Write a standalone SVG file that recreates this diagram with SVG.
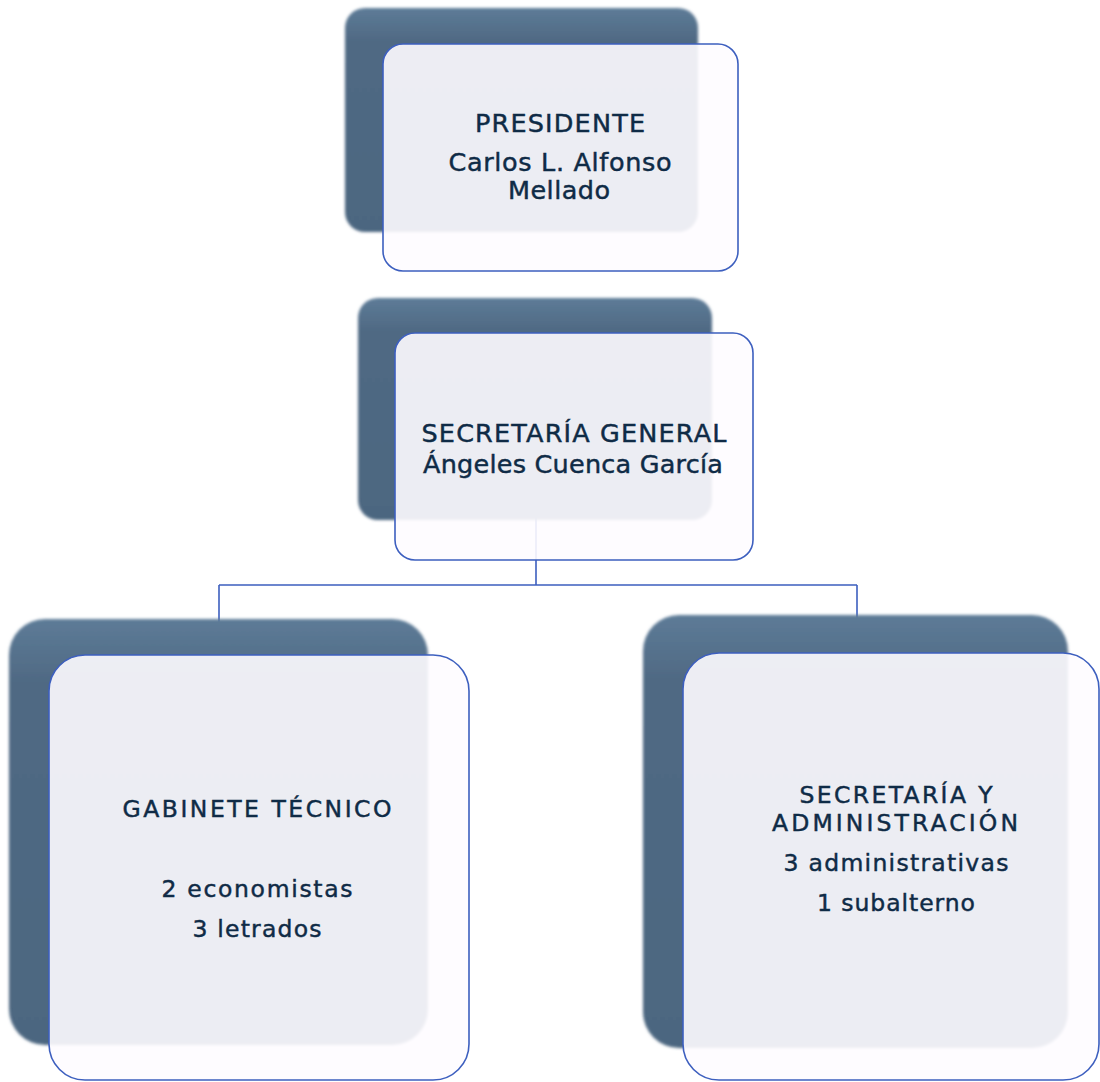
<svg xmlns="http://www.w3.org/2000/svg" width="1100" height="1082" viewBox="0 0 1100 1082">
<defs>
<linearGradient id="shadeGrad" x1="0" y1="0" x2="0" y2="1">
<stop offset="0" stop-color="#5d7b97"/>
<stop offset="0.15" stop-color="#4f6983"/>
<stop offset="1" stop-color="#4c6680"/>
</linearGradient>
<filter id="soft" x="-5%" y="-5%" width="110%" height="110%">
<feGaussianBlur stdDeviation="1.6"/>
</filter>
<style>
.shade{fill:url(#shadeGrad);filter:url(#soft);}
.card{fill:#fefcff;fill-opacity:0.9;stroke:#3d5fbf;stroke-width:1.6;}
.conn{fill:none;stroke:#3d5fbf;stroke-width:1.6;}
.t{font-family:"DejaVu Sans","Liberation Sans",sans-serif;fill:#0f2b46;stroke:#0f2b46;stroke-width:0.45;text-anchor:middle;}
.big{font-size:25.5px;}
.small{font-size:23.5px;}
</style>
</defs>
<rect width="1100" height="1082" fill="#ffffff"/>
<g id="connectors">
<path class="conn" d="M536 500 V585 M219 585 H857 M219 585 V625 M857 585 V620"/>
</g>
<g id="node-presidente">
<rect class="shade" x="345" y="8" width="353" height="224" rx="20"/>
<rect class="card" x="383" y="44" width="355" height="227" rx="20"/>
<text class="t big" x="560" y="132" textLength="170" lengthAdjust="spacing">PRESIDENTE</text>
<text class="t big" x="560" y="171" textLength="223" lengthAdjust="spacing">Carlos L. Alfonso</text>
<text class="t big" x="559" y="199" textLength="102" lengthAdjust="spacing">Mellado</text>
</g>
<g id="node-secretaria-general">
<rect class="shade" x="358" y="298" width="354" height="222" rx="20"/>
<rect class="card" x="395" y="333" width="358" height="227" rx="20"/>
<text class="t big" x="574" y="442" textLength="305" lengthAdjust="spacing">SECRETARÍA GENERAL</text>
<text class="t big" x="573" y="473" textLength="300" lengthAdjust="spacing">Ángeles Cuenca García</text>
</g>
<g id="node-gabinete">
<rect class="shade" x="9" y="619" width="419" height="426" rx="36"/>
<rect class="card" x="49" y="655" width="420" height="425" rx="36"/>
<text class="t small" x="257" y="817" textLength="269" lengthAdjust="spacing">GABINETE TÉCNICO</text>
<text class="t small" x="257" y="897" textLength="191" lengthAdjust="spacing">2 economistas</text>
<text class="t small" x="257" y="937" textLength="129" lengthAdjust="spacing">3 letrados</text>
</g>
<g id="node-secretaria-admin">
<rect class="shade" x="643" y="615" width="425" height="433" rx="36"/>
<rect class="card" x="683" y="653" width="416" height="427" rx="36"/>
<text class="t small" x="896" y="803" textLength="193" lengthAdjust="spacing">SECRETARÍA Y</text>
<text class="t small" x="895" y="831" textLength="246" lengthAdjust="spacing">ADMINISTRACIÓN</text>
<text class="t small" x="896" y="871" textLength="225" lengthAdjust="spacing">3 administrativas</text>
<text class="t small" x="896" y="911" textLength="158" lengthAdjust="spacing">1 subalterno</text>
</g>
</svg>
